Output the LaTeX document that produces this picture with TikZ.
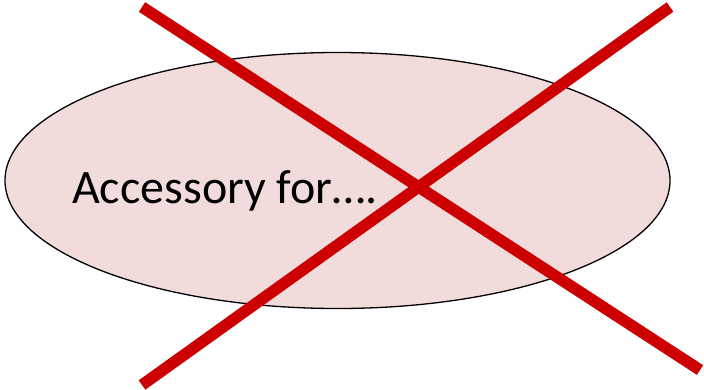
\documentclass[tikz,border=0pt]{standalone}
\usepackage{fontspec}
\setmainfont{Carlito}
\usepackage{tikz}
\usetikzlibrary{shapes.geometric}
\definecolor{accPink}{RGB}{242,220,219}
\definecolor{accRed} {RGB}{204,  0,  0}

\begin{document}
\begin{tikzpicture}[
  x=1pt, y=-1pt,
  blob/.style    ={ellipse, draw=black, line width=1.3pt, fill=accPink,
                   minimum width=665pt, minimum height=256pt, inner sep=0pt},
  lbl/.style     ={font=\fontsize{48}{54}\selectfont, text=black,
                   inner sep=0pt, anchor=base west},
  crossline/.style={draw=accRed, line width=11.5pt},
]
  \useasboundingbox (0,0) rectangle (704,389);

  % the crossed-out bubble
  \node[blob] (bubble) at (337.5,180.5) {};
  \node[lbl]  (txt)    at (72,203) {Accessory for….};

  % ends of the two strokes
  \coordinate (tl) at (142,7);
  \coordinate (br) at (700,370);
  \coordinate (tr) at (670,7);
  \coordinate (bl) at (142,385);

  \draw[crossline] (tl) -- (br);
  \draw[crossline] (tr) -- (bl);
\end{tikzpicture}
\end{document}
